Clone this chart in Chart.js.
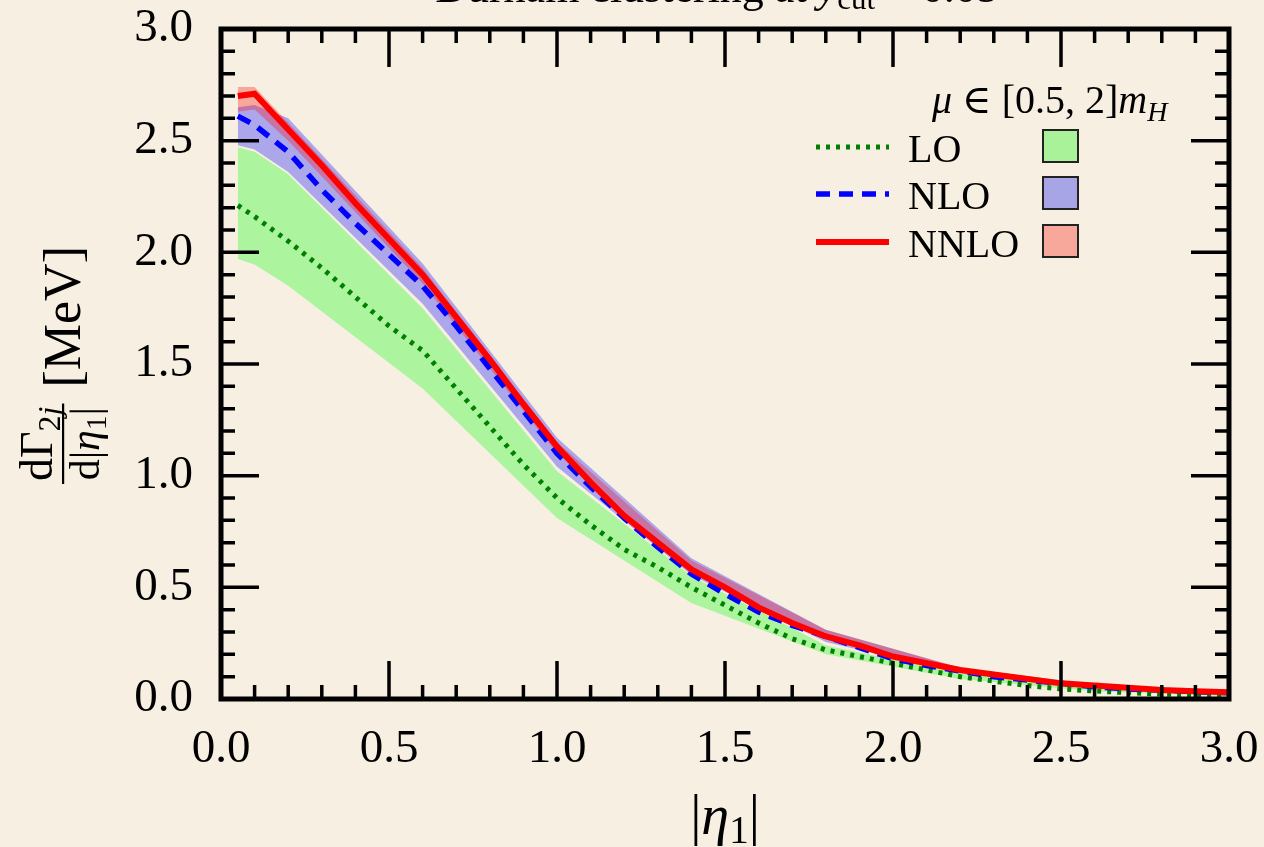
<!DOCTYPE html>
<html>
  <head>
    <meta charset="utf-8">
    <style>
      body { margin: 0; background: #f7efe1; }
      canvas { display: block; }
    </style>
  </head>
  <body>
    <canvas id="etaChart" width="1264" height="847"></canvas>

    <script src="https://cdn.jsdelivr.net/npm/chart.js@4.4.0/dist/chart.umd.min.js"></script>
    <script>
      // central curves
      var xLine = [0.05, 0.1, 0.2, 0.3, 0.4, 0.5, 0.6, 0.7, 0.8, 0.9, 1.0, 1.1, 1.2, 1.3, 1.4, 1.5,
                   1.6, 1.7, 1.8, 1.9, 2.0, 2.1, 2.2, 2.3, 2.4, 2.5, 2.6, 2.7, 2.8, 2.9, 3.0];
      var loLine = [2.21, 2.16, 2.05, 1.93, 1.80, 1.67, 1.56, 1.39, 1.22, 1.05, 0.90, 0.78, 0.67, 0.59, 0.50, 0.42,
                    0.34, 0.27, 0.22, 0.19, 0.16, 0.13, 0.10, 0.08, 0.06, 0.045, 0.036, 0.028, 0.022, 0.018, 0.015];
      var nloLine = [2.61, 2.57, 2.45, 2.28, 2.13, 1.99, 1.85, 1.67, 1.48, 1.29, 1.10, 0.95, 0.81, 0.68, 0.56, 0.47,
                     0.39, 0.33, 0.28, 0.23, 0.18, 0.15, 0.125, 0.10, 0.085, 0.07, 0.055, 0.045, 0.04, 0.033, 0.028];
      var nnloLine = [2.70, 2.71, 2.55, 2.39, 2.22, 2.06, 1.90, 1.71, 1.52, 1.32, 1.13, 0.97, 0.82, 0.70, 0.58, 0.50,
                      0.41, 0.34, 0.28, 0.24, 0.19, 0.16, 0.13, 0.11, 0.09, 0.07, 0.06, 0.05, 0.04, 0.035, 0.03];

      // scale variation bands mu in [0.5, 2] mH
      var xBand = [0.05, 0.1, 0.2, 0.6, 1.0, 1.4, 1.8, 2.2, 2.6, 3.0];
      var loLow = [1.97, 1.945, 1.85, 1.39, 0.81, 0.43, 0.20, 0.09, 0.035, 0.013];
      var loHigh = [2.47, 2.45, 2.35, 1.75, 1.02, 0.55, 0.24, 0.115, 0.045, 0.018];
      var nloLow = [2.48, 2.46, 2.36, 1.77, 1.04, 0.555, 0.255, 0.115, 0.05, 0.024];
      var nloHigh = [2.65, 2.66, 2.60, 1.95, 1.17, 0.63, 0.31, 0.14, 0.065, 0.032];
      var nnloLow = [2.63, 2.64, 2.50, 1.86, 1.10, 0.57, 0.28, 0.125, 0.055, 0.027];
      var nnloHigh = [2.74, 2.74, 2.58, 1.93, 1.15, 0.62, 0.31, 0.14, 0.065, 0.032];

      var orders = ['LO', 'NLO', 'NNLO'];
      var xTicks = [0.0, 0.5, 1.0, 1.5, 2.0, 2.5, 3.0];
      var yTicks = [0.0, 0.5, 1.0, 1.5, 2.0, 2.5, 3.0];

      var serif = '"Liberation Serif", "DejaVu Serif", serif';
      var bg = '#f7efe1';
      var lineColors = ['rgb(0,128,0)', 'rgb(0,0,255)', 'rgb(255,0,0)'];
      var bandColors = ['rgba(0,255,0,0.3)', 'rgba(0,0,255,0.3)', 'rgba(255,0,0,0.3)'];
      var boxColors = ['rgb(170,242,154)', 'rgb(168,165,230)', 'rgb(247,168,155)'];
      var dashes = [[4, 6], [14, 9], []];
      var widths = [5, 5.5, 6];

      function pts(xs, ys) {
        return xs.map(function (x, i) { return { x: x, y: ys[i] }; });
      }

      function edge(data, order) {
        return { data: data, borderWidth: 0, pointRadius: 0, fill: false, order: order };
      }
      function band(data, color, order) {
        return { data: data, borderWidth: 0, pointRadius: 0, fill: '-1', backgroundColor: color, order: order };
      }
      function curve(data, i) {
        return {
          label: orders[i], data: data, borderColor: lineColors[i], borderWidth: widths[i],
          borderDash: dashes[i], borderCapStyle: 'butt', pointRadius: 0, fill: false, order: 2 - i
        };
      }

      // draws a list of [text, style, size, dy] pieces one after the other
      function richWidth(ctx, parts) {
        var total = 0;
        parts.forEach(function (p) {
          ctx.font = p[1] + ' ' + p[2] + 'px ' + serif;
          total += ctx.measureText(p[0]).width;
        });
        return total;
      }
      function rich(ctx, parts, x, y, align) {
        var total = richWidth(ctx, parts);
        var cx = align === 'center' ? x - total / 2 : x;
        ctx.textAlign = 'left';
        ctx.textBaseline = 'alphabetic';
        parts.forEach(function (p) {
          ctx.font = p[1] + ' ' + p[2] + 'px ' + serif;
          ctx.fillText(p[0], cx, y + (p[3] || 0));
          cx += ctx.measureText(p[0]).width;
        });
        return total;
      }

      var decor = {
        id: 'decor',
        beforeDraw: function (chart) {
          var ctx = chart.ctx;
          ctx.save();
          ctx.fillStyle = bg;
          ctx.fillRect(0, 0, chart.width, chart.height);
          ctx.restore();
        },
        afterDraw: function (chart) {
          var ctx = chart.ctx, a = chart.chartArea;
          var xs = chart.scales.x, ys = chart.scales.y;
          ctx.save();
          ctx.strokeStyle = '#000';
          ctx.fillStyle = '#000';

          // inward ticks on all four sides
          ctx.lineWidth = 3.5;
          ctx.beginPath();
          for (var k = 1; k < 30; k++) {
            var v = k / 10;
            var major = k % 5 === 0;
            var len = major ? 38 : 14;
            var px = xs.getPixelForValue(v);
            ctx.moveTo(px, a.bottom); ctx.lineTo(px, a.bottom - len);
            ctx.moveTo(px, a.top); ctx.lineTo(px, a.top + len);
            var py = ys.getPixelForValue(v);
            ctx.moveTo(a.left, py); ctx.lineTo(a.left + len, py);
            ctx.moveTo(a.right, py); ctx.lineTo(a.right - len, py);
          }
          ctx.stroke();

          // frame
          ctx.lineWidth = 5;
          ctx.strokeRect(a.left, a.top, a.right - a.left, a.bottom - a.top);

          // title, mostly cut off at the top edge
          rich(ctx, [['Durham clustering at ', '', 44], ['y', 'italic', 44], ['cut', '', 31, 7], [' = 0.05', '', 44]],
               (a.left + a.right) / 2 - 8, 2, 'center');

          // x axis label
          rich(ctx, [['|', '', 56], ['η', 'italic', 56], ['1', '', 39, 9], ['|', '', 56]],
               (a.left + a.right) / 2, 834, 'center');

          // y axis label (rotated fraction)
          ctx.save();
          ctx.translate(0, 484);
          ctx.rotate(-Math.PI / 2);
          var num = [['dΓ', '', 46], ['2', '', 32, 8], ['j', 'italic', 32, 8]];
          var den = [['d|', '', 42], ['η', 'italic', 42], ['1', '', 29, 7], ['|', '', 42]];
          var wn = richWidth(ctx, num), wd = richWidth(ctx, den);
          var wf = Math.max(wn, wd) + 6;
          rich(ctx, num, wf / 2, 52, 'center');
          rich(ctx, den, wf / 2, 99, 'center');
          ctx.fillRect(0, 62, wf, 2.2);
          rich(ctx, [['[MeV]', '', 52]], wf + 16, 80, 'left');
          ctx.restore();

          // legend
          rich(ctx, [['μ', 'italic', 40], [' ∈ [0.5, 2]', '', 40], ['m', 'italic', 40], ['H', 'italic', 28, 8]],
               932, 113, 'left');
          var rowsY = [147, 194, 242];
          for (var i = 0; i < 3; i++) {
            ctx.save();
            ctx.strokeStyle = lineColors[i];
            ctx.lineWidth = widths[i];
            ctx.setLineDash(dashes[i]);
            ctx.lineCap = 'butt';
            ctx.beginPath();
            ctx.moveTo(816, rowsY[i]);
            ctx.lineTo(889, rowsY[i]);
            ctx.stroke();
            ctx.restore();
            ctx.fillStyle = '#000';
            rich(ctx, [[orders[i], '', 40]], 908, rowsY[i] + 15, 'left');
            ctx.fillStyle = boxColors[i];
            ctx.fillRect(1043, rowsY[i] - 17, 35, 32);
            ctx.strokeStyle = '#222';
            ctx.lineWidth = 2;
            ctx.strokeRect(1043, rowsY[i] - 17, 35, 32);
          }
          ctx.restore();
        }
      };

      var ctx = document.getElementById('etaChart').getContext('2d');
      var etaChart = new Chart(ctx, {
        type: 'line',
        data: {
          datasets: [
            edge(pts(xBand, loLow), 10),
            band(pts(xBand, loHigh), bandColors[0], 10),
            edge(pts(xBand, nloLow), 9),
            band(pts(xBand, nloHigh), bandColors[1], 9),
            edge(pts(xBand, nnloLow), 8),
            band(pts(xBand, nnloHigh), bandColors[2], 8),
            curve(pts(xLine, loLine), 0),
            curve(pts(xLine, nloLine), 1),
            curve(pts(xLine, nnloLine), 2)
          ]
        },
        options: {
          responsive: false,
          animation: false,
          layout: { padding: { left: 0, right: 35, top: 29, bottom: 0 } },
          plugins: {
            legend: { display: false },
            tooltip: { enabled: false }
          },
          scales: {
            x: {
              type: 'linear', min: 0, max: 3,
              grid: { display: false, drawTicks: false },
              border: { display: false },
              afterBuildTicks: function (s) { s.ticks = xTicks.map(function (v) { return { value: v }; }); },
              afterFit: function (s) {
                s.height = 148;
                s.paddingLeft = 0; s.paddingRight = 0;
              },
              ticks: {
                padding: 22, color: '#000', maxRotation: 0,
                font: { family: serif, size: 47 },
                callback: function (v) { return v.toFixed(1); }
              }
            },
            y: {
              type: 'linear', min: 0, max: 3,
              grid: { display: false, drawTicks: false },
              border: { display: false },
              afterBuildTicks: function (s) { s.ticks = yTicks.map(function (v) { return { value: v }; }); },
              afterFit: function (s) {
                s.width = 221;
                s.paddingTop = 0; s.paddingBottom = 0;
              },
              ticks: {
                padding: 28, color: '#000',
                font: { family: serif, size: 47 },
                callback: function (v) { return v.toFixed(1); }
              }
            }
          }
        },
        plugins: [decor]
      });
    </script>
  </body>
</html>
